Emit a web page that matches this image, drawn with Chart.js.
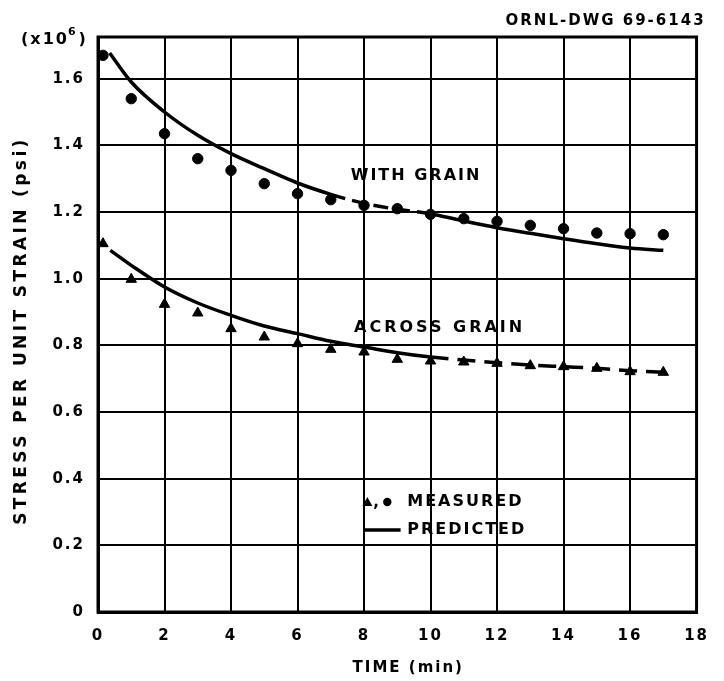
<!DOCTYPE html>
<html><head><meta charset="utf-8">
<script src="https://cdn.jsdelivr.net/npm/chart.js@4/dist/chart.umd.min.js"></script>
<style>html,body{margin:0;padding:0;background:#fff}canvas{display:block}</style>
</head><body>
<canvas id="c" width="724" height="681"></canvas>
<script>
// ---- data ----
const xTicks = [0, 2, 4, 6, 8, 10, 12, 14, 16, 18];
const yTicks = [0, 0.2, 0.4, 0.6, 0.8, 1.0, 1.2, 1.4, 1.6];

const measuredTime = [0.15, 1, 2, 3, 4, 5, 6, 7, 8, 9, 10, 11, 12, 13, 14, 15, 16, 17];
const withGrainMeasured = [1.67, 1.54, 1.435, 1.36, 1.325, 1.285, 1.255, 1.237, 1.22, 1.21, 1.193, 1.18, 1.172, 1.16, 1.15, 1.137, 1.135, 1.132];
const acrossGrainMeasured = [1.105, 0.998, 0.923, 0.897, 0.85, 0.825, 0.805, 0.788, 0.78, 0.758, 0.753, 0.75, 0.746, 0.739, 0.736, 0.731, 0.721, 0.719];

const withPredTime = [0.35, 1, 2, 3, 4, 5, 6, 7, 8, 9, 10, 11, 12, 13, 14, 15, 16, 17];
const withGrainPredicted = [1.677, 1.59, 1.50, 1.43, 1.375, 1.33, 1.287, 1.253, 1.226, 1.208, 1.195, 1.173, 1.153, 1.136, 1.12, 1.105, 1.092, 1.085];
const acrossPredTime = [0.37, 1, 2, 3, 4, 5, 6, 7, 8, 9, 10, 11, 12, 13, 14, 15, 16, 17];
const acrossGrainPredicted = [1.085, 1.04, 0.975, 0.927, 0.89, 0.858, 0.835, 0.812, 0.795, 0.778, 0.765, 0.756, 0.748, 0.741, 0.736, 0.731, 0.724, 0.719];

const xTitle = 'TIME (min)';
const yTitle = 'STRESS PER UNIT STRAIN (psi)';
const drawingId = 'ORNL-DWG 69-6143';
const withLabel = 'WITH GRAIN';
const acrossLabel = 'ACROSS GRAIN';
const legendMeasured = 'MEASURED';
const legendPredicted = 'PREDICTED';

const FONT = '"DejaVu Sans", sans-serif';
const pts = (xs, ys) => xs.map((x, i) => ({x, y: ys[i]}));

const annot = {
  id: 'annot',
  beforeUpdate(c) { c.ctx.letterSpacing = '2px'; },
  beforeDraw(c) {
    const ctx = c.ctx;
    ctx.letterSpacing = '2px';
    ctx.save();
    ctx.fillStyle = '#fff';
    ctx.fillRect(0, 0, c.width, c.height);
    ctx.restore();
  },
  afterDraw(c) {
    const ctx = c.ctx, ca = c.chartArea, xs = c.scales.x, ys = c.scales.y;
    ctx.save();
    ctx.strokeStyle = '#000';
    ctx.lineWidth = 3;
    ctx.strokeRect(ca.left, ca.top, ca.right - ca.left, ca.bottom - ca.top);
    ctx.fillStyle = '#000';
    ctx.textBaseline = 'middle';
    // axis titles
    ctx.textAlign = 'center';
    ctx.letterSpacing = '2px';
    ctx.font = 'bold 15px ' + FONT;
    ctx.fillText(xTitle, (ca.left + ca.right) / 2 + 11, 668);
    ctx.save();
    ctx.translate(22, (ca.top + ca.bottom) / 2 + 6);
    ctx.rotate(-Math.PI / 2);
    ctx.letterSpacing = '3.4px';
    ctx.font = 'bold 17px ' + FONT;
    ctx.fillText(yTitle, 0, 0);
    ctx.restore();
    // drawing id
    ctx.letterSpacing = '2px';
    ctx.font = 'bold 15px ' + FONT;
    ctx.textAlign = 'right';
    ctx.fillText(drawingId, ca.right + 9, 21);
    // (x10^6)
    ctx.textAlign = 'left';
    ctx.letterSpacing = '2px';
    let x = 21;
    ctx.font = 'bold 16px ' + FONT;
    ctx.fillText('(x10', x, 40); x += ctx.measureText('(x10').width - 1;
    ctx.font = 'bold 11px ' + FONT;
    ctx.fillText('6', x, 32); x += ctx.measureText('6').width + 1;
    ctx.font = 'bold 16px ' + FONT;
    ctx.fillText(')', x, 40);
    // curve labels
    ctx.letterSpacing = '2px';
    ctx.font = 'bold 16px ' + FONT;
    ctx.fillText(withLabel, xs.getPixelForValue(7.6), ys.getPixelForValue(1.309));
    ctx.letterSpacing = '3px';
    ctx.fillText(acrossLabel, xs.getPixelForValue(7.7), ys.getPixelForValue(0.852));
    // legend
    ctx.letterSpacing = '2px';
    const ly1 = ys.getPixelForValue(0.33), ly2 = ys.getPixelForValue(0.246);
    const tx = xs.getPixelForValue(9.3);
    const t0 = xs.getPixelForValue(8.1);
    ctx.beginPath();
    ctx.moveTo(t0, ly1 - 5); ctx.lineTo(t0 + 5, ly1 + 4); ctx.lineTo(t0 - 5, ly1 + 4); ctx.closePath(); ctx.fill();
    ctx.font = 'bold 15px ' + FONT;
    ctx.letterSpacing = '0px';
    ctx.fillText(',', t0 + 6, ly1 + 1);
    ctx.beginPath();
    ctx.arc(xs.getPixelForValue(8.7), ly1, 4.2, 0, Math.PI * 2); ctx.fill();
    ctx.letterSpacing = '2px';
    ctx.font = 'bold 16px ' + FONT;
    ctx.fillText(legendMeasured, tx, ly1);
    ctx.lineWidth = 3.5;
    ctx.beginPath();
    ctx.moveTo(xs.getPixelForValue(7.98), ly2); ctx.lineTo(xs.getPixelForValue(9.1), ly2); ctx.stroke();
    ctx.fillText(legendPredicted, tx, ly2);
    ctx.restore();
  }
};

new Chart(document.getElementById('c'), {
  type: 'scatter',
  data: {
    datasets: [
      {label: 'With grain measured', data: pts(measuredTime, withGrainMeasured), pointStyle: 'circle', pointRadius: 5.2, backgroundColor: '#000', borderColor: '#000', showLine: false, order: 1},
      {label: 'Across grain measured', data: pts(measuredTime, acrossGrainMeasured), pointStyle: 'triangle', pointRadius: 6, backgroundColor: '#000', borderColor: '#000', showLine: false, order: 2},
      {label: 'With grain predicted', data: pts(withPredTime, withGrainPredicted), showLine: true, pointRadius: 0, borderColor: '#000', borderWidth: 3.5, cubicInterpolationMode: 'monotone', order: 3,
        segment: {borderDash: s => (s.p0.parsed.x >= 6.9 && s.p1.parsed.x <= 10.6) ? [15, 7] : undefined}},
      {label: 'Across grain predicted', data: pts(acrossPredTime, acrossGrainPredicted), showLine: true, pointRadius: 0, borderColor: '#000', borderWidth: 3.5, cubicInterpolationMode: 'monotone', order: 4,
        segment: {borderDash: s => (s.p0.parsed.x >= 10) ? [18, 9] : undefined}}
    ]
  },
  options: {
    responsive: false,
    devicePixelRatio: 1,
    animation: false,
    layout: {padding: {left: 0, right: 19, top: 37, bottom: 0}},
    plugins: {legend: {display: false}, tooltip: {enabled: false}},
    scales: {
      x: {
        type: 'linear', min: 0, max: 18,
        afterBuildTicks: s => { s.ticks = xTicks.map(v => ({value: v})); },
        afterFit: s => { s.height = 69; },
        ticks: {color: '#000', font: {family: FONT, size: 15, weight: 'bold'}, padding: 15, maxRotation: 0, autoSkip: false,
          callback: v => String(v)},
        grid: {color: '#000', lineWidth: 2, drawTicks: false},
        border: {color: '#000', width: 3},
        title: {display: false, text: xTitle}
      },
      y: {
        type: 'linear', min: 0, max: 1.725,
        afterBuildTicks: s => { s.ticks = yTicks.map(v => ({value: v})); },
        afterFit: s => { s.width = 98; },
        ticks: {color: '#000', font: {family: FONT, size: 15, weight: 'bold'}, padding: 13, autoSkip: false,
          callback: v => v === 0 ? '0' : v.toFixed(1)},
        grid: {color: '#000', lineWidth: 2, drawTicks: false},
        border: {color: '#000', width: 3},
        title: {display: false, text: yTitle}
      }
    }
  },
  plugins: [annot]
});
</script>
</body></html>
